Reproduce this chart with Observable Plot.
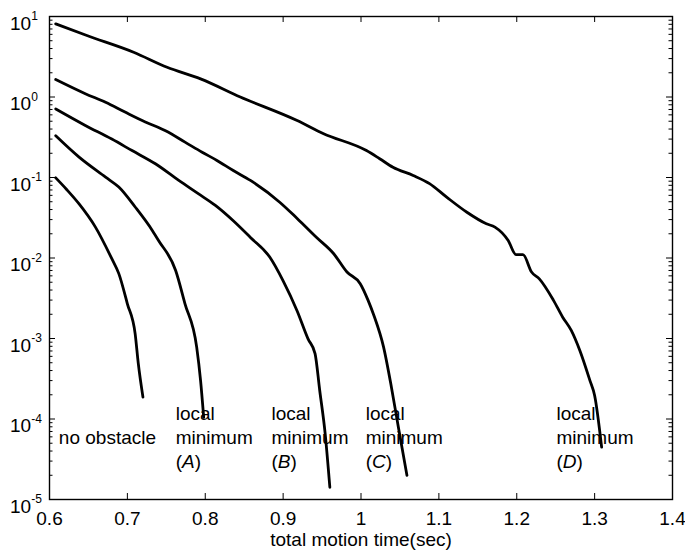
<!DOCTYPE html>
<html>
<head>
<meta charset="utf-8">
<script src="https://cdn.jsdelivr.net/npm/d3@7"></script>
<script src="https://cdn.jsdelivr.net/npm/@observablehq/plot@0.6"></script>
<style>
  html, body { margin: 0; padding: 0; background: #fff; }
  #chart svg { display: block; font-family: "Liberation Sans", Arial, sans-serif; }
</style>
</head>
<body>
<div id="chart"></div>
<script>
// ---- data ----
const seriesNames = ["no obstacle", "local minimum (A)", "local minimum (B)", "local minimum (C)", "local minimum (D)"];

const noObsT = [0.608, 0.622, 0.638, 0.659, 0.680, 0.689, 0.700, 0.710, 0.714, 0.720];
const noObsV = [0.099, 0.071, 0.047, 0.0242, 0.0098, 0.0064, 0.0027, 0.00114, 0.00049, 0.000187];

const aT = [0.608, 0.638, 0.672, 0.689, 0.710, 0.732, 0.740, 0.762, 0.774, 0.789, 0.794, 0.798];
const aV = [0.33, 0.179, 0.101, 0.076, 0.043, 0.022, 0.0165, 0.0070, 0.0027, 0.00078, 0.0003, 0.000105];

const bT = [0.608, 0.646, 0.680, 0.706, 0.736, 0.766, 0.791, 0.813, 0.836, 0.858, 0.883, 0.900, 0.918, 0.932, 0.941, 0.947, 0.954, 0.960];
const bV = [0.71, 0.443, 0.30, 0.216, 0.148, 0.092, 0.063, 0.045, 0.029, 0.018, 0.0102, 0.0052, 0.0022, 0.00099, 0.00065, 0.000226, 0.0000655, 0.0000142];

const cT = [0.608, 0.646, 0.672, 0.697, 0.723, 0.749, 0.774, 0.796, 0.815, 0.836, 0.858, 0.896, 0.918, 0.943, 0.965, 0.982, 0.999, 1.009, 1.016, 1.029, 1.039, 1.048, 1.059];
const cV = [1.65, 1.10, 0.86, 0.65, 0.49, 0.38, 0.275, 0.206, 0.163, 0.122, 0.092, 0.049, 0.031, 0.018, 0.0113, 0.0067, 0.0048, 0.0030, 0.0020, 0.00078, 0.00025, 0.000079, 0.00002];

const dT = [0.608, 0.648, 0.708, 0.751, 0.794, 0.845, 0.918, 0.952, 1.007, 1.024, 1.041, 1.067, 1.088, 1.110, 1.136, 1.161, 1.172, 1.189, 1.199, 1.208, 1.219, 1.229, 1.247, 1.259, 1.270, 1.281, 1.294, 1.300, 1.309];
const dV = [8.1, 5.8, 3.6, 2.34, 1.68, 1.0, 0.51, 0.35, 0.216, 0.171, 0.134, 0.106, 0.084, 0.057, 0.037, 0.0266, 0.0242, 0.0165, 0.011, 0.011, 0.0067, 0.0055, 0.0030, 0.00184, 0.00126, 0.00071, 0.0003, 0.000196, 0.0000447];

const xTicks = [0.6, 0.7, 0.8, 0.9, 1, 1.1, 1.2, 1.3, 1.4];
const xTickLabels = ["0.6", "0.7", "0.8", "0.9", "1", "1.1", "1.2", "1.3", "1.4"];
const yTicks = [10, 1, 0.1, 0.01, 0.001, 0.0001, 0.00001];
const yExponents = ["1", "0", "-1", "-2", "-3", "-4", "-5"];

// curve annotations (text and anchor in data units)
const labelTexts = ["no obstacle", "local\nminimum\n(A)", "local\nminimum\n(B)", "local\nminimum\n(C)", "local\nminimum\n(D)"];
const labelX = [0.612, 0.762, 0.885, 1.006, 1.251];
const labelY = [6.1e-5, 6.1e-5, 6.1e-5, 6.1e-5, 6.1e-5];

const xLabel = "total motion time(sec)";

// ---- build tables ----
const seriesT = [noObsT, aT, bT, cT, dT];
const seriesV = [noObsV, aV, bV, cV, dV];
const rows = [];
seriesNames.forEach((name, i) => {
  seriesT[i].forEach((t, j) => rows.push({series: name, t, v: seriesV[i][j]}));
});
const labels = labelTexts.map((text, i) => ({text, x: labelX[i], y: labelY[i]}));

const minorTicks = [];
yTicks.slice(1).forEach(d => { for (let k = 2; k <= 9; k++) minorTicks.push(d * k); });

const FS = 19;
const W = 685, H = 553, ML = 49, MR = 13, MT = 16, MB = 54;
const FW = W - ML - MR, FH = H - MT - MB;
const MAJ = 6, MIN = 3.5;

const plot = Plot.plot({
  width: W,
  height: H,
  marginLeft: ML,
  marginRight: MR,
  marginTop: MT,
  marginBottom: MB,
  style: {fontFamily: '"Liberation Sans", Arial, sans-serif', fontSize: FS + "px", color: "black", background: "white"},
  x: {domain: [0.6, 1.4], axis: null},
  y: {type: "log", domain: [1e-5, 10], axis: null},
  marks: [
    // inward ticks (MATLAB-like), drawn as rules inset from the opposite side
    Plot.ruleX(xTicks, {x: d => d, insetTop: FH - MAJ, stroke: "black", strokeWidth: 1}),
    Plot.ruleX(xTicks, {x: d => d, insetBottom: FH - MAJ, stroke: "black", strokeWidth: 1}),
    Plot.ruleY(yTicks, {y: d => d, insetRight: FW - MAJ, stroke: "black", strokeWidth: 1}),
    Plot.ruleY(yTicks, {y: d => d, insetLeft: FW - MAJ, stroke: "black", strokeWidth: 1}),
    Plot.ruleY(minorTicks, {y: d => d, insetRight: FW - MIN, stroke: "black", strokeWidth: 1}),
    Plot.ruleY(minorTicks, {y: d => d, insetLeft: FW - MIN, stroke: "black", strokeWidth: 1}),
    Plot.frame({stroke: "black", strokeWidth: 1.4}),
    // tick labels
    Plot.text(xTicks, {x: d => d, text: (d, i) => xTickLabels[i], frameAnchor: "bottom", dy: 25, fontSize: FS, fill: "black"}),
    Plot.text(yTicks, {y: d => d, text: () => "10", frameAnchor: "left", textAnchor: "start", dx: -39.5, dy: 7, fontSize: FS, fill: "black"}),
    Plot.text(yTicks, {y: d => d, text: (d, i) => yExponents[i], frameAnchor: "left", textAnchor: "start", dx: -18.3, dy: 0, fontSize: 12, fill: "black"}),
    Plot.text([xLabel], {frameAnchor: "bottom", dy: 46, fontSize: FS, fill: "black"}),
    // curves
    Plot.line(rows, {x: "t", y: "v", z: "series", stroke: "black", strokeWidth: 2.8, strokeLinejoin: "round", curve: "monotone-x"}),
    // annotations
    Plot.text(labels, {x: "x", y: "y", text: "text", textAnchor: "start", lineAnchor: "middle", lineHeight: 24 / FS, fontSize: FS, fill: "black"})
  ]
});

// italic letters inside (A) ... (D)
plot.querySelectorAll("text, tspan").forEach(el => {
  if (el.children.length === 0) {
    const m = /^\(([A-D])\)$/.exec(el.textContent);
    if (m) {
      el.textContent = "";
      el.appendChild(document.createTextNode("("));
      const it = document.createElementNS("http://www.w3.org/2000/svg", "tspan");
      it.setAttribute("font-style", "italic");
      it.textContent = m[1];
      el.appendChild(it);
      el.appendChild(document.createTextNode(")"));
    }
  }
});

document.getElementById("chart").appendChild(plot);
</script>
</body>
</html>
